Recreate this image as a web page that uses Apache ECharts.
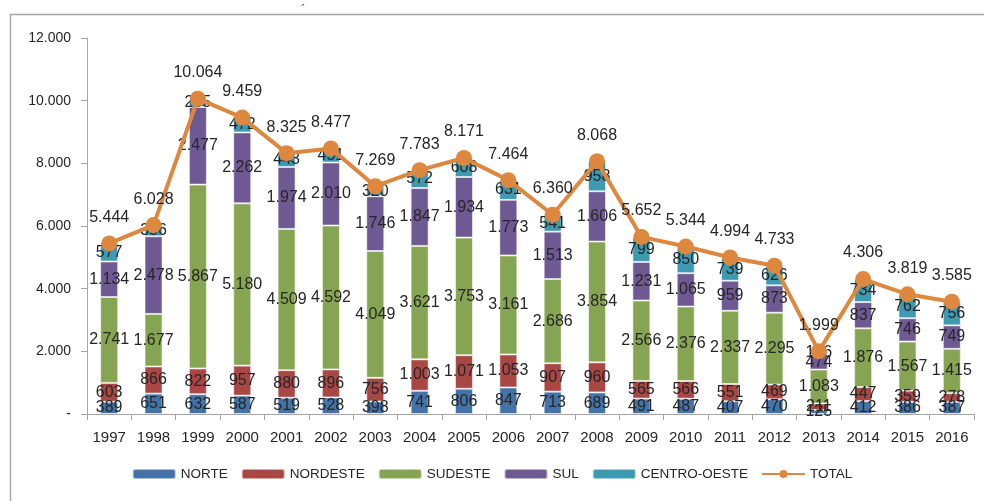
<!DOCTYPE html>
<html>
<head>
<meta charset="utf-8">
<script src="https://cdn.jsdelivr.net/npm/echarts@6/dist/echarts.min.js"></script>
<style>
html,body{margin:0;padding:0;background:#fff;}
#chart{width:984px;height:501px;}
</style>
</head>
<body>
<div id="chart"></div>
<script>
var years = ['1997','1998','1999','2000','2001','2002','2003','2004','2005','2006','2007','2008','2009','2010','2011','2012','2013','2014','2015','2016'];
var norte = [389,651,632,587,519,528,398,741,806,847,713,689,491,487,407,470,125,412,386,387];
var nordeste = [603,866,822,957,880,896,756,1003,1071,1053,907,960,565,566,551,469,211,447,359,278];
var sudeste = [2741,1677,5867,5180,4509,4592,4049,3621,3753,3161,2686,3854,2566,2376,2337,2295,1083,1876,1567,1415];
var sul = [1134,2478,2477,2262,1974,2010,1746,1847,1934,1773,1513,1606,1231,1065,959,873,474,837,746,749];
var centroOeste = [577,356,265,472,443,451,320,572,608,631,541,958,799,850,739,626,106,734,762,756];
var total = [5444,6028,10064,9459,8325,8477,7269,7783,8171,7464,6360,8068,5652,5344,4994,4733,1999,4306,3819,3585];
var yTicks = [0,2000,4000,6000,8000,10000,12000];

function fmt(v){
  if (v === 0) return '-';
  return String(v).replace(/\B(?=(\d{3})+(?!\d))/g, '.');
}

var FONT = 'Liberation Sans';
var TXT = '#262626';

function barSeries(name, data, color){
  return {
    name: name, type: 'bar', stack: 'r', data: data, barWidth: 18,
    itemStyle: {color: color, borderColor: 'rgba(255,255,255,0.55)', borderWidth: 1},
    label: {show: true, position: 'inside', color: TXT, fontFamily: FONT, fontSize: 16,
      formatter: function(p){ return fmt(p.value); }},
    z: 2
  };
}

var chart = echarts.init(document.getElementById('chart'), null, {renderer: 'canvas'});
chart.setOption({
  animation: false,
  backgroundColor: '#fff',
  textStyle: {fontFamily: FONT},
  graphic: [
    {type: 'polyline', shape: {points: [[10.5, 501], [10.5, 14.5], [984, 14.5]]},
     style: {stroke: '#a6a6a6', lineWidth: 1.5, fill: null}},
    {type: 'text', left: 301, top: 4, style: {text: '´', fontSize: 14, fill: '#444', fontFamily: FONT}}
  ],
  grid: {left: 87, right: 10, top: 38, bottom: 87},
  legend: {
    bottom: 15, left: 'center', itemWidth: 43, itemHeight: 10, itemGap: 13,
    textStyle: {fontFamily: FONT, fontSize: 13.5, color: TXT},
    data: ['NORTE','NORDESTE','SUDESTE','SUL','CENTRO-OESTE','TOTAL']
  },
  xAxis: {
    type: 'category', data: years, boundaryGap: true,
    axisLine: {lineStyle: {color: '#a6a6a6', width: 1}},
    axisTick: {show: true, alignWithLabel: false, length: 6, lineStyle: {color: '#a6a6a6'}},
    axisLabel: {color: TXT, fontFamily: FONT, fontSize: 15, margin: 16}
  },
  yAxis: {
    type: 'value', min: yTicks[0], max: yTicks[yTicks.length-1], interval: 2000,
    splitLine: {show: false},
    axisLine: {show: true, lineStyle: {color: '#a6a6a6', width: 1}},
    axisTick: {show: true, length: 6, lineStyle: {color: '#a6a6a6'}},
    axisLabel: {color: TXT, fontFamily: FONT, fontSize: 14, margin: 16, formatter: fmt}
  },
  series: [
    barSeries('NORTE', norte, '#4473A8'),
    barSeries('NORDESTE', nordeste, '#A94745'),
    barSeries('SUDESTE', sudeste, '#86A552'),
    barSeries('SUL', sul, '#6F5992'),
    barSeries('CENTRO-OESTE', centroOeste, '#3D9AB0'),
    {
      name: 'TOTAL', type: 'line', data: total, z: 5,
      symbol: 'circle', symbolSize: 16,
      lineStyle: {color: '#DE873F', width: 4},
      itemStyle: {color: '#DE873F'},
      label: {show: true, position: 'top', distance: 10, color: TXT, fontFamily: FONT, fontSize: 16,
        formatter: function(p){ return fmt(p.value); }}
    }
  ]
});
</script>
</body>
</html>
